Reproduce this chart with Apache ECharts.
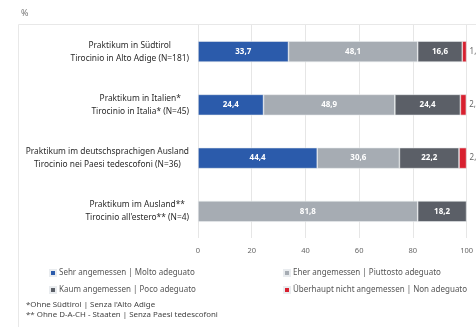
<!DOCTYPE html>
<html>
<head>
<meta charset="utf-8">
<script src="https://cdn.jsdelivr.net/npm/echarts@6/dist/echarts.min.js"></script>
<style>
  html, body { margin: 0; padding: 0; background: #fff; }
  #chart { width: 476px; height: 327px; }
</style>
</head>
<body>
<div id="chart"></div>
<script>
// Internship groups (two-language labels)
const categories = [
  ['Praktikum in Südtirol', 'Tirocinio in Alto Adige (N=181)'],
  ['Praktikum in Italien*', 'Tirocinio in Italia* (N=45)'],
  ['Praktikum im deutschsprachigen Ausland', 'Tirocinio nei Paesi tedescofoni (N=36)'],
  ['Praktikum im Ausland**', 'Tirocinio all\'estero** (N=4)']
];

const seriesNames = [
  'Sehr angemessen | Molto adeguato',
  'Eher angemessen | Piuttosto adeguato',
  'Kaum angemessen | Poco adeguato',
  'Überhaupt nicht angemessen | Non adeguato'
];

// Shares in percent, one array per answer
const sehr = [33.7, 24.4, 44.4, null];
const eher = [48.1, 48.9, 30.6, 81.8];
const kaum = [16.6, 24.4, 22.2, 18.2];
const nicht = [1.6, 2.2, 2.8, null];

const xTicks = [0, 20, 40, 60, 80, 100];

const footnotes = [
  '*Ohne Südtirol | Senza l\'Alto Adige',
  '** Ohne D-A-CH - Staaten | Senza Paesi tedescofoni'
];

const colors = ['#2b5bab', '#a6acb3', '#5b5f67', '#d8202f'];
const FONT = 'Noto Sans';

const fmt = v => v.toFixed(1).replace('.', ',');

function barSeries(name, data, color, inside) {
  return {
    name: name,
    type: 'bar',
    stack: 'total',
    data: data,
    barWidth: 21,
    itemStyle: { color: color, borderColor: '#e9ecef', borderWidth: 0.6 },
    label: inside ? {
      show: true,
      position: 'inside',
      color: '#fff',
      fontFamily: FONT,
      fontSize: 8,
      fontWeight: 'bold',
      formatter: p => fmt(p.value)
    } : {
      show: true,
      position: 'right',
      distance: 3,
      color: '#666',
      fontFamily: FONT,
      fontSize: 8,
      formatter: p => fmt(p.value)
    }
  };
}

const chart = echarts.init(document.getElementById('chart'), null, { renderer: 'canvas' });

chart.setOption({
  animation: false,
  backgroundColor: '#fff',
  textStyle: { fontFamily: FONT },
  title: {
    text: '%',
    left: 16,
    top: 4,
    textStyle: { fontSize: 9, color: '#777', fontWeight: 'normal', fontFamily: FONT }
  },
  grid: { left: 198, right: 7, top: 25, bottom: 89, containLabel: false },
  xAxis: {
    type: 'value',
    min: xTicks[0],
    max: xTicks[xTicks.length - 1],
    interval: 20,
    axisLine: { show: false },
    axisTick: { show: false },
    splitLine: { lineStyle: { color: '#e6e6e6', width: 1 } },
    axisLabel: { color: '#666', fontSize: 7.5, fontFamily: FONT, margin: 9 }
  },
  yAxis: {
    type: 'category',
    inverse: true,
    data: categories.map(c => c.join('\n')),
    axisLine: { show: false },
    axisTick: { show: false },
    axisLabel: {
      margin: 9,
      formatter: v => v.split('\n').map(s => '{c|' + s + '}').join('\n'),
      rich: {
        c: { align: 'center', fontSize: 8.4, color: '#2a2a2a', fontFamily: FONT, lineHeight: 13 }
      }
    }
  },
  legend: [
    {
      data: [seriesNames[0], seriesNames[2]],
      orient: 'vertical',
      left: 44,
      top: 264,
      itemGap: 9,
      icon: 'rect',
      itemWidth: 6,
      itemHeight: 6,
      textStyle: { fontSize: 8, color: '#555', fontFamily: FONT, padding: [0, 0, 0, -2] }
    },
    {
      data: [seriesNames[1], seriesNames[3]],
      orient: 'vertical',
      left: 278,
      top: 264,
      itemGap: 9,
      icon: 'rect',
      itemWidth: 6,
      itemHeight: 6,
      textStyle: { fontSize: 8, color: '#555', fontFamily: FONT, padding: [0, 0, 0, -2] }
    }
  ],
  graphic: [
    {
      type: 'rect',
      shape: { x: 18.5, y: 24.5, width: 500, height: 400 },
      style: { fill: null, stroke: '#e8e8e8', lineWidth: 1 },
      z: -10,
      silent: true
    },
    {
      type: 'text',
      left: 26,
      top: 301,
      style: { text: footnotes[0], fontSize: 7.9, fill: '#444', fontFamily: FONT }
    },
    {
      type: 'text',
      left: 26,
      top: 311,
      style: { text: footnotes[1], fontSize: 7.9, fill: '#444', fontFamily: FONT }
    }
  ],
  series: [
    barSeries(seriesNames[0], sehr, colors[0], true),
    barSeries(seriesNames[1], eher, colors[1], true),
    barSeries(seriesNames[2], kaum, colors[2], true),
    barSeries(seriesNames[3], nicht, colors[3], false)
  ]
});
</script>
</body>
</html>
